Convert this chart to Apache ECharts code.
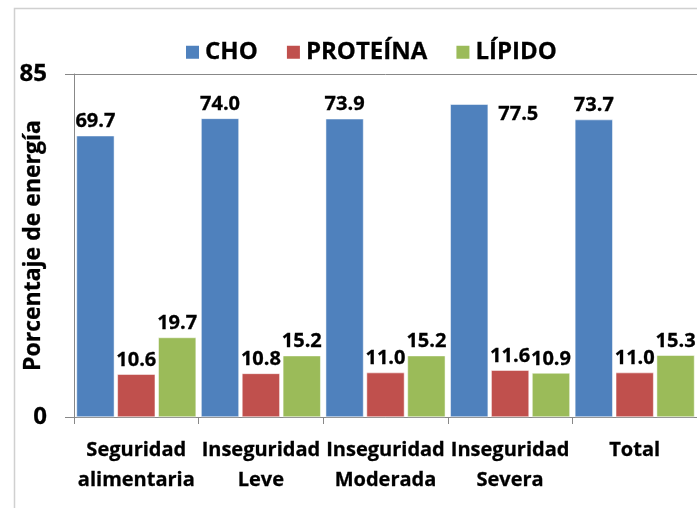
<!DOCTYPE html>
<html>
<head>
<meta charset="utf-8">
<script src="https://cdn.jsdelivr.net/npm/echarts@6/dist/echarts.min.js"></script>
<style>
	html, body { margin: 0; padding: 0; background: #fff; }
	#chart { width: 697px; height: 508px; }
</style>
</head>
<body>
<div id="chart"></div>
<script>
const categories = ["Seguridad\nalimentaria", "Inseguridad\nLeve", "Inseguridad\nModerada", "Inseguridad\nSevera", "Total"];
const cho = [69.7, 74.0, 73.9, 77.5, 73.7];
const proteina = [10.6, 10.8, 11.0, 11.6, 11.0];
const lipido = [19.7, 15.2, 15.2, 10.9, 15.3];
const yMin = 0;
const yMax = 85;

const FONT = "Open Sans";

const boldText = {
	color: "#000",
	fontFamily: FONT,
	fontWeight: "bold",
	textBorderColor: "#000",
	textBorderWidth: 0.3
};

const chart = echarts.init(document.getElementById("chart"));

function barLabel() {
	return Object.assign({
		show: true,
		position: "top",
		distance: 4,
		fontSize: 20,
		formatter: (p) => p.value.toFixed(1)
	}, boldText);
}

// the "Severa" CHO label sits beside the bar in the original
const choData = cho.map((v, i) => i === 3 ? {
	value: v,
	label: { position: [48, 0], align: "left", verticalAlign: "top" }
} : v);

chart.setOption({
	animation: false,
	color: ["#4F81BD", "#C0504D", "#9BBB59"],
	graphic: [
		{
			type: "rect",
			left: 12,
			top: 6,
			shape: { width: 720, height: 540 },
			style: { fill: "none", stroke: "#d0d0d0", lineWidth: 1.5 },
			silent: true
		}
	],
	legend: {
		left: 179,
		top: 35,
		icon: "rect",
		itemWidth: 15,
		itemHeight: 15,
		itemGap: 27,
		textStyle: Object.assign({ fontSize: 24 }, boldText),
		data: ["CHO", "PROTEÍNA", "LÍPIDO"]
	},
	grid: {
		left: 74,
		right: 0,
		top: 74,
		bottom: 91,
		containLabel: false,
		outerBoundsMode: "none"
	},
	xAxis: {
		type: "category",
		data: categories,
		axisLine: { show: true, lineStyle: { color: "#888", width: 1 } },
		axisTick: { show: true, length: 7, lineStyle: { color: "#888" } },
		axisLabel: Object.assign({
			interval: 0,
			margin: 18,
			fontSize: 20,
			lineHeight: 30
		}, boldText)
	},
	yAxis: {
		type: "value",
		min: yMin,
		max: yMax,
		interval: yMax,
		name: "Porcentaje de energía",
		nameLocation: "middle",
		nameRotate: 90,
		nameGap: 29,
		nameMoveOverlap: false,
		nameTextStyle: Object.assign({ fontSize: 23 }, boldText),
		axisLine: { show: true, lineStyle: { color: "#888", width: 1 } },
		axisTick: { show: true, length: 9, lineStyle: { color: "#888" } },
		splitLine: { show: true, lineStyle: { color: "#888", width: 1 } },
		axisLabel: Object.assign({
			margin: 27,
			fontSize: 24
		}, boldText)
	},
	series: [
		{
			name: "CHO",
			type: "bar",
			barGap: "8%",
			barCategoryGap: "4%",
			itemStyle: { borderColor: "#fff", borderWidth: 0.5 },
			label: barLabel(),
			data: choData
		},
		{
			name: "PROTEÍNA",
			type: "bar",
			barGap: "8%",
			barCategoryGap: "4%",
			itemStyle: { borderColor: "#fff", borderWidth: 0.5 },
			label: barLabel(),
			data: proteina
		},
		{
			name: "LÍPIDO",
			type: "bar",
			barGap: "8%",
			barCategoryGap: "4%",
			itemStyle: { borderColor: "#fff", borderWidth: 0.5 },
			label: barLabel(),
			data: lipido
		}
	]
});
</script>
</body>
</html>
